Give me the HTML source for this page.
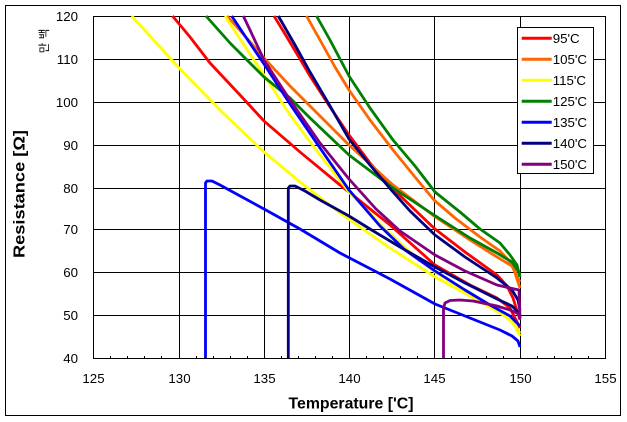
<!DOCTYPE html>
<html>
<head>
<meta charset="utf-8">
<style>
  html, body { margin:0; padding:0; background:#fff; }
  body { width:627px; height:422px; overflow:hidden; }
  svg { display:block; }
  text { font-family: "Liberation Sans", "Noto Sans CJK KR", sans-serif; fill:#000; }
</style>
</head>
<body>
<svg width="627" height="422" viewBox="0 0 627 422" xmlns="http://www.w3.org/2000/svg">
  <rect x="0" y="0" width="627" height="422" fill="#fff"/>
  <!-- outer frame -->
  <rect x="5.5" y="5.5" width="615" height="410" fill="none" stroke="#000" stroke-width="1"/>

  <!-- plot area -->
  <rect x="93.5" y="16.5" width="512" height="342" fill="#fff"/>
  <g stroke="#000" stroke-width="1" fill="none" shape-rendering="crispEdges">
    <!-- horizontal gridlines -->
    <line x1="93" y1="16.5" x2="606" y2="16.5"/>
    <line x1="93" y1="59.5" x2="606" y2="59.5"/>
    <line x1="93" y1="102.5" x2="606" y2="102.5"/>
    <line x1="93" y1="145.5" x2="606" y2="145.5"/>
    <line x1="93" y1="188.5" x2="606" y2="188.5"/>
    <line x1="93" y1="229.5" x2="606" y2="229.5"/>
    <line x1="93" y1="272.5" x2="606" y2="272.5"/>
    <line x1="93" y1="315.5" x2="606" y2="315.5"/>
    <line x1="93" y1="358.5" x2="606" y2="358.5"/>
    <!-- vertical gridlines -->
    <line x1="93.5" y1="16" x2="93.5" y2="359"/>
    <line x1="179.5" y1="16" x2="179.5" y2="359"/>
    <line x1="264.5" y1="16" x2="264.5" y2="359"/>
    <line x1="349.5" y1="16" x2="349.5" y2="359"/>
    <line x1="434.5" y1="16" x2="434.5" y2="359"/>
    <line x1="520.5" y1="16" x2="520.5" y2="359"/>
    <line x1="605.5" y1="16" x2="605.5" y2="359"/>
    <!-- minor ticks -->
    <path d="M110.5 356V358 M127.5 356V358 M144.5 356V358 M161.5 356V358
             M196.5 356V358 M213.5 356V358 M230.5 356V358 M247.5 356V358
             M281.5 356V358 M298.5 356V358 M315.5 356V358 M332.5 356V358
             M366.5 356V358 M383.5 356V358 M400.5 356V358 M417.5 356V358
             M451.5 356V358 M468.5 356V358 M486.5 356V358 M503.5 356V358
             M537.5 356V358 M554.5 356V358 M571.5 356V358 M588.5 356V358"/>
  </g>

  <!-- data series -->
  <g fill="none" stroke-width="2.8" stroke-linejoin="round" stroke-linecap="butt">
    <!-- 95 C red -->
    <polyline stroke="#FF0000" points="172.5,16 190,37 210,63 240,95 264,121 300,152 340,185 349,192 390,225 435,265 470,285 497,298 510,308 520,328"/>
    <polyline stroke="#FF0000" points="274,16 285,34 300,59 310,76 330,107 349,135 370,163 393,189 415,210 435,229 465,252 497,275 507,286 513,298 520,320"/>
    <!-- 105 C orange -->
    <polyline stroke="#FF6600" points="227,16 245,36 264,58 290,86 310,106 349,145 393,185 434,216 470,240 497,257 512,266 520,282"/>
    <polyline stroke="#FF6600" points="306.5,16 320,40 335,67 349,90 370,120 393,150 415,177 434,200 455,218 480,237 500,251 512,264 520,288"/>
    <!-- 115 C yellow -->
    <polyline stroke="#FFFF00" points="131.7,16 180,69 222,112 264,152 300,182 340,213 390,248 435,277 470,296 500,313 513,322 520,336"/>
    <polyline stroke="#FFFF00" points="225,16 240,39 264,75 290,115 320,155 349,192 385,229 410,252 435,272 465,291 497,310 512,322 520,333"/>
    <!-- 125 C green -->
    <polyline stroke="#008000" points="206,16 230,43 264,77 290,98 310,118 349,155 393,188 434,215 470,238 497,253 512,262 520,274"/>
    <polyline stroke="#008000" points="316.5,16 330,40 349,76 370,108 393,140 415,166 435,192 460,212 480,229 500,243 510,255 517,265 520,277"/>
    <!-- 135 C blue -->
    <polyline stroke="#0000FF" points="231.7,16 245,36 264,64 290,104 320,148 349,190 380,226 405,250 435,271 465,290 490,305 510,316 520,326"/>
    <polyline stroke="#0000FF" points="205.5,358 205.5,183 207,181 212,181 220,185 264,209 300,229 340,253 390,279 435,304 470,318 500,330 512,336 518,341 520,347"/>
    <!-- 140 C navy -->
    <polyline stroke="#000080" points="278.3,16 295,45 310,72 330,106 349,139 370,165 393,192 410,211 435,235 465,257 497,278 512,290 518,300 520,310"/>
    <polyline stroke="#000080" points="288.3,358 288.3,188 290,186 295,186 305,191 320,200 349,216 370,229 400,247 435,267 465,283 497,299 512,306 520,314"/>
    <!-- 150 C purple -->
    <polyline stroke="#800080" points="243.3,16 250,30 264,60 290,100 320,143 349,179 376,209 400,231 435,255 465,271 497,285 510,288 519,290 520,318"/>
    <polyline stroke="#800080" points="443.5,358 443.5,308 445,303 450,300.5 460,300 473,301 497,306 510,310 519,314 520,319"/>
  </g>

  <!-- y tick labels -->
  <g font-size="13.3" text-anchor="end">
    <text x="78" y="21">120</text>
    <text x="78" y="64">110</text>
    <text x="78" y="107">100</text>
    <text x="78" y="150">90</text>
    <text x="78" y="193">80</text>
    <text x="78" y="234">70</text>
    <text x="78" y="277">60</text>
    <text x="78" y="320">50</text>
    <text x="78" y="363">40</text>
  </g>
  <!-- x tick labels -->
  <g font-size="13.3" text-anchor="middle">
    <text x="93.5" y="383">125</text>
    <text x="179.5" y="383">130</text>
    <text x="264.5" y="383">135</text>
    <text x="349.5" y="383">140</text>
    <text x="434.5" y="383">145</text>
    <text x="520.5" y="383">150</text>
    <text x="605.5" y="383">155</text>
  </g>

  <!-- axis titles -->
  <text x="288.5" y="408.5" font-size="16" font-weight="bold" textLength="125" lengthAdjust="spacingAndGlyphs">Temperature ['C]</text>
  <text transform="translate(24.5,258) rotate(-90)" x="0" y="0" font-size="16" font-weight="bold" textLength="128" lengthAdjust="spacingAndGlyphs">Resistance [Ω]</text>

  <!-- display unit label -->
  <text transform="translate(48,34) rotate(-90)" font-size="11.5" text-anchor="middle">백</text>
  <text transform="translate(48,48) rotate(-90)" font-size="11.5" text-anchor="middle">만</text>

  <!-- legend -->
  <rect x="517.5" y="27.5" width="76" height="146" fill="#fff" stroke="#000" stroke-width="1" shape-rendering="crispEdges"/>
  <g stroke-width="3">
    <line x1="521.7" y1="38.3" x2="551.7" y2="38.3" stroke="#FF0000"/>
    <line x1="521.7" y1="59.3" x2="551.7" y2="59.3" stroke="#FF6600"/>
    <line x1="521.7" y1="80.3" x2="551.7" y2="80.3" stroke="#FFFF00"/>
    <line x1="521.7" y1="101.2" x2="551.7" y2="101.2" stroke="#008000"/>
    <line x1="521.7" y1="122.3" x2="551.7" y2="122.3" stroke="#0000FF"/>
    <line x1="521.7" y1="143.3" x2="551.7" y2="143.3" stroke="#000080"/>
    <line x1="521.7" y1="164.2" x2="551.7" y2="164.2" stroke="#800080"/>
  </g>
  <g font-size="13.3">
    <text x="552.7" y="43">95'C</text>
    <text x="552.7" y="64">105'C</text>
    <text x="552.7" y="85">115'C</text>
    <text x="552.7" y="106">125'C</text>
    <text x="552.7" y="127">135'C</text>
    <text x="552.7" y="148">140'C</text>
    <text x="552.7" y="169">150'C</text>
  </g>
</svg>
</body>
</html>
